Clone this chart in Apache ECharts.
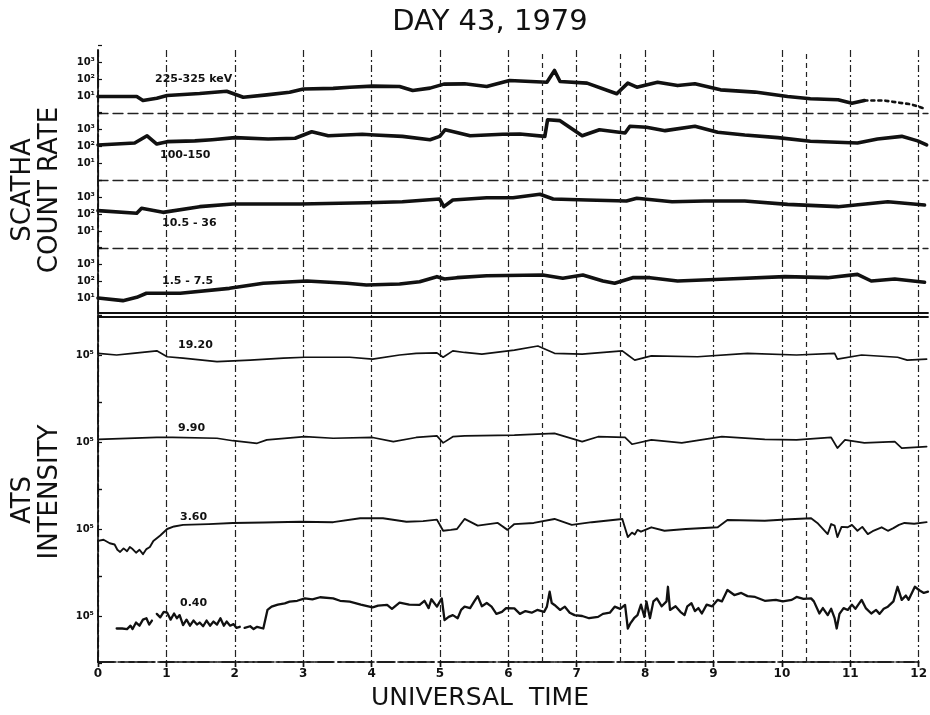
<!DOCTYPE html>
<html>
<head>
<meta charset="utf-8">
<script src="https://cdn.jsdelivr.net/npm/echarts@6/dist/echarts.min.js"></script>
<style>
  html, body { margin: 0; padding: 0; background: #fff; }
  #chart { width: 930px; height: 715px; }
</style>
</head>
<body>
<div id="chart"></div>
<script>
// ---- Data: universal time in hours, values on log scales ----
const hourTicks = [0, 1, 2, 3, 4, 5, 6, 7, 8, 9, 10, 11, 12];
const eventHours = [6.5, 7.63, 10.35];

// SCATHA count rates (counts per interval)
const scathaNames = ['225-325 keV', '100-150', '10.5 - 36', '1.5 - 7.5'];
const scatha225 = [[0,9.3],[0.56,9.3],[0.65,5.4],[0.85,7.4],[1.0,10.7],[1.47,14],[1.86,19],[2.1,8.5],[2.44,11.7],[2.77,16.7],[2.97,26],[3.4,28],[3.64,33],[3.97,38],[4.36,36],[4.55,21],[4.8,29],[5.0,50],[5.3,52],[5.62,36],[5.95,82],[6.49,65],[6.6,316],[6.68,71],[7.07,57],[7.5,13.5],[7.66,57],[7.79,33],[8.09,65],[8.38,41],[8.63,52],[9.0,23],[9.5,17],[9.97,9.3],[10.3,6.9],[10.7,6.0],[10.9,3.8],[11.08,5.4],[11.37,5.4],[11.76,3.2],[11.95,1.8]];
const scatha225DottedFrom = 11.08;
const scatha100 = [[0,115],[0.53,150],[0.71,400],[0.85,130],[1.0,180],[1.4,200],[1.65,235],[1.98,310],[2.46,260],[2.85,285],[3.09,690],[3.33,400],[3.82,490],[4.0,440],[4.4,370],[4.8,235],[4.94,370],[5.02,910],[5.38,400],[5.85,490],[6.1,510],[6.46,370],[6.5,3500],[6.68,3100],[7.0,400],[7.25,910],[7.62,580],[7.69,1450],[7.93,1260],[8.2,800],[8.63,1450],[8.96,640],[9.35,440],[9.83,310],[10.3,190],[10.98,150],[11.27,260],[11.62,370],[11.85,200],[11.98,115]];
const scatha10 = [[0,157],[0.56,110],[0.63,215],[0.94,125],[1.47,270],[1.95,390],[2.92,390],[3.88,460],[4.4,530],[4.94,760],[5.0,270],[5.13,660],[5.62,910],[6.0,910],[6.39,1440],[6.58,760],[7.07,660],[7.64,580],[7.79,840],[8.3,530],[8.77,580],[9.35,580],[9.97,370],[10.7,270],[11.42,530],[11.95,340]];
const scatha1 = [[0,10],[0.36,7],[0.56,11],[0.7,19],[1.19,19],[1.9,37],[2.39,73],[3.02,100],[3.6,73],[3.88,58],[4.36,66],[4.65,91],[4.9,180],[5.01,131],[5.19,157],[5.62,205],[6.43,225],[6.72,144],[7.01,225],[7.3,100],[7.47,73],[7.73,157],[7.98,157],[8.38,100],[9.1,131],[9.93,180],[10.55,157],[10.98,246],[11.18,100],[11.52,131],[11.95,84]];

// ATS intensities
const atsNames = ['19.20', '9.90', '3.60', '0.40'];
const ats1920 = [[0,1.04e5],[0.27,1.0e5],[0.5,1.04e5],[0.85,1.10e5],[1.0,0.96e5],[1.23,0.93e5],[1.72,0.86e5],[2.2,0.89e5],[2.68,0.93e5],[2.99,0.95e5],[3.64,0.95e5],[3.97,0.91e5],[4.36,1.0e5],[4.6,1.04e5],[4.9,1.05e5],[4.99,0.95e5],[5.13,1.10e5],[5.3,1.06e5],[5.55,1.02e5],[6.02,1.12e5],[6.36,1.23e5],[6.6,1.04e5],[7.0,1.02e5],[7.58,1.10e5],[7.66,1.0e5],[7.76,0.89e5],[8.0,0.98e5],[8.67,0.96e5],[9.39,1.04e5],[10.1,1.0e5],[10.65,1.04e5],[10.69,0.91e5],[11.04,1.0e5],[11.56,0.95e5],[11.7,0.89e5],[11.98,0.91e5]];
const ats990 = [[0,1.06e5],[0.85,1.11e5],[1.08,1.11e5],[1.72,1.09e5],[1.95,1.03e5],[2.3,0.97e5],[2.44,1.05e5],[2.99,1.13e5],[3.4,1.09e5],[3.97,1.11e5],[4.27,1.01e5],[4.6,1.11e5],[4.9,1.15e5],[4.99,0.98e5],[5.13,1.13e5],[5.3,1.15e5],[6.02,1.17e5],[6.6,1.22e5],[7.0,1.01e5],[7.23,1.13e5],[7.62,1.11e5],[7.72,0.95e5],[8.0,1.05e5],[8.44,0.98e5],[9.02,1.13e5],[9.64,1.06e5],[10.1,1.05e5],[10.6,1.11e5],[10.69,0.87e5],[10.8,1.05e5],[11.08,0.98e5],[11.52,1.01e5],[11.62,0.87e5],[11.98,0.90e5]];
const ats360 = [[0,0.76e5],[0.08,0.78e5],[0.17,0.72e5],[0.24,0.70e5],[0.28,0.62e5],[0.32,0.59e5],[0.37,0.64e5],[0.42,0.60e5],[0.46,0.66e5],[0.5,0.63e5],[0.55,0.58e5],[0.6,0.62e5],[0.65,0.56e5],[0.7,0.63e5],[0.75,0.66e5],[0.8,0.76e5],[0.9,0.86e5],[1.0,1.0e5],[1.1,1.06e5],[1.23,1.10e5],[1.6,1.12e5],[1.95,1.15e5],[2.4,1.16e5],[2.92,1.18e5],[3.4,1.17e5],[3.79,1.28e5],[4.12,1.28e5],[4.46,1.18e5],[4.7,1.20e5],[4.9,1.24e5],[4.99,0.96e5],[5.1,0.98e5],[5.19,1.0e5],[5.3,1.26e5],[5.49,1.08e5],[5.78,1.15e5],[5.92,0.98e5],[6.02,1.12e5],[6.3,1.15e5],[6.6,1.26e5],[6.85,1.10e5],[7.14,1.17e5],[7.58,1.26e5],[7.66,0.83e5],[7.72,0.92e5],[7.76,0.88e5],[7.8,0.98e5],[7.85,0.94e5],[8.0,1.04e5],[8.19,0.96e5],[8.5,1.0e5],[8.96,1.04e5],[9.1,1.23e5],[9.64,1.21e5],[10.0,1.25e5],[10.31,1.28e5],[10.4,1.15e5],[10.46,1.04e5],[10.55,0.89e5],[10.6,1.12e5],[10.65,1.08e5],[10.69,0.83e5],[10.75,1.05e5],[10.84,1.04e5],[10.9,1.10e5],[10.98,0.96e5],[11.05,1.05e5],[11.13,0.89e5],[11.2,0.95e5],[11.33,1.04e5],[11.42,0.96e5],[11.5,1.02e5],[11.58,1.10e5],[11.66,1.15e5],[11.8,1.13e5],[11.98,1.17e5]];
const ats040 = [[0.27,0.75e5],[0.35,0.75e5],[0.42,0.74e5],[0.47,0.80e5],[0.5,0.74e5],[0.55,0.86e5],[0.6,0.80e5],[0.65,0.92e5],[0.7,0.95e5],[0.74,0.82e5],[0.78,0.90e5],[0.8,null],[0.85,1.05e5],[0.9,0.97e5],[0.95,1.10e5],[1.0,1.08e5],[1.05,0.92e5],[1.1,1.06e5],[1.14,0.95e5],[1.18,1.02e5],[1.23,0.81e5],[1.28,0.92e5],[1.33,0.80e5],[1.38,0.90e5],[1.43,0.82e5],[1.47,0.86e5],[1.52,0.79e5],[1.57,0.90e5],[1.62,0.80e5],[1.67,0.88e5],[1.72,0.82e5],[1.77,0.95e5],[1.82,0.80e5],[1.86,0.88e5],[1.91,0.80e5],[1.96,0.83e5],[2.0,0.76e5],[2.05,0.78e5],[2.08,null],[2.12,0.76e5],[2.2,0.79e5],[2.25,0.74e5],[2.3,0.78e5],[2.39,0.75e5],[2.45,1.15e5],[2.51,1.24e5],[2.6,1.30e5],[2.7,1.34e5],[2.77,1.39e5],[2.88,1.42e5],[2.99,1.50e5],[3.1,1.47e5],[3.21,1.54e5],[3.4,1.50e5],[3.5,1.42e5],[3.64,1.39e5],[3.8,1.30e5],[3.97,1.22e5],[4.05,1.27e5],[4.18,1.29e5],[4.25,1.18e5],[4.36,1.36e5],[4.5,1.30e5],[4.65,1.29e5],[4.72,1.42e5],[4.78,1.20e5],[4.82,1.47e5],[4.9,1.24e5],[4.97,1.50e5],[5.01,0.91e5],[5.07,0.98e5],[5.13,1.02e5],[5.2,0.95e5],[5.25,1.15e5],[5.3,1.24e5],[5.38,1.20e5],[5.44,1.40e5],[5.49,1.58e5],[5.55,1.25e5],[5.62,1.35e5],[5.69,1.24e5],[5.76,1.05e5],[5.84,1.10e5],[5.9,1.20e5],[6.02,1.19e5],[6.1,1.05e5],[6.18,1.12e5],[6.27,1.08e5],[6.35,1.15e5],[6.45,1.10e5],[6.49,1.24e5],[6.53,1.75e5],[6.56,1.35e5],[6.6,1.29e5],[6.68,1.15e5],[6.75,1.24e5],[6.82,1.08e5],[6.89,1.02e5],[7.0,1.00e5],[7.1,0.95e5],[7.23,0.98e5],[7.3,1.05e5],[7.4,1.08e5],[7.47,1.24e5],[7.55,1.18e5],[7.62,1.29e5],[7.66,0.75e5],[7.7,0.85e5],[7.75,0.95e5],[7.8,1.02e5],[7.85,1.30e5],[7.9,0.98e5],[7.93,1.39e5],[7.98,0.95e5],[8.03,1.40e5],[8.08,1.50e5],[8.15,1.25e5],[8.22,1.40e5],[8.24,1.96e5],[8.27,1.15e5],[8.35,1.25e5],[8.42,1.10e5],[8.48,1.02e5],[8.52,1.25e5],[8.58,1.34e5],[8.63,1.12e5],[8.68,1.20e5],[8.73,1.06e5],[8.8,1.30e5],[8.88,1.25e5],[8.96,1.45e5],[9.02,1.40e5],[9.1,1.82e5],[9.2,1.62e5],[9.3,1.70e5],[9.39,1.58e5],[9.5,1.55e5],[9.64,1.42e5],[9.8,1.45e5],[9.9,1.40e5],[10.03,1.45e5],[10.1,1.55e5],[10.2,1.48e5],[10.31,1.50e5],[10.35,1.40e5],[10.43,1.06e5],[10.48,1.20e5],[10.55,1.02e5],[10.6,1.18e5],[10.65,0.95e5],[10.68,0.75e5],[10.72,1.05e5],[10.78,1.20e5],[10.84,1.15e5],[10.9,1.30e5],[10.95,1.18e5],[11.04,1.45e5],[11.1,1.20e5],[11.18,1.06e5],[11.25,1.15e5],[11.3,1.05e5],[11.36,1.18e5],[11.42,1.24e5],[11.5,1.40e5],[11.56,1.96e5],[11.62,1.45e5],[11.68,1.60e5],[11.72,1.45e5],[11.81,1.96e5],[11.88,1.80e5],[11.94,1.70e5],[12,1.75e5]];

// ---- Layout ----
const FONT = 'DejaVu Sans';
const INK = '#111';
const plotLeft = 98, plotRight = 2;
const scathaTops = [45, 112, 180, 247], scathaH = 68;
const atsTops = [315, 402, 489, 576], atsH = 87;
const scathaRange = [1, 1e4];
const atsRange = [Math.pow(10, 4.53), Math.pow(10, 5.4)];
const supDigits = { 1: '\u00b9', 2: '\u00b2', 3: '\u00b3', 5: '\u2075' };

function decadeLabel(allowed) {
  return function (v) {
    const lg = Math.log10(v);
    const e = Math.round(lg);
    if (Math.abs(lg - e) > 0.01 || allowed.indexOf(e) < 0) return '';
    return '10' + supDigits[e];
  };
}

const grids = [{ left: plotLeft, right: plotRight, top: 50, bottom: 53 }];
const xAxes = [
  { gridIndex: 0, type: 'value', min: 0, max: 12, interval: 1, position: 'bottom',
    axisLine: { lineStyle: { color: INK, width: 1.6, type: [16, 4] } },
    axisTick: { show: true, length: 5, lineStyle: { color: INK, width: 1.4 } },
    axisLabel: { color: INK, fontSize: 12, fontWeight: 'bold', fontFamily: FONT, margin: 6 },
    splitLine: { show: true, lineStyle: { color: '#222', width: 1.2, type: [7, 3, 2, 3] } } },
  { gridIndex: 0, type: 'value', min: 0, max: 12, interval: 1, position: 'top',
    axisLine: { lineStyle: { color: INK, width: 1.6, type: [18, 5, 3, 5] } },
    axisTick: { show: true, inside: true, length: 5, lineStyle: { color: INK, width: 1.4 } },
    axisLabel: { show: false }, splitLine: { show: false } }
];
const yAxes = [
  { gridIndex: 0, type: 'value', min: 0, max: 1, position: 'left',
    axisLine: { show: true, lineStyle: { color: INK, width: 1.6 } },
    axisTick: { show: false }, axisLabel: { show: false }, splitLine: { show: false } },
  { gridIndex: 0, type: 'value', min: 0, max: 1, position: 'right',
    axisLine: { show: true, lineStyle: { color: INK, width: 1.6, type: [10, 4] } },
    axisTick: { show: false }, axisLabel: { show: false }, splitLine: { show: false } }
];
const series = [
  { type: 'line', xAxisIndex: 0, yAxisIndex: 0, data: [], silent: true,
    markLine: { symbol: 'none', silent: true, label: { show: false },
      lineStyle: { color: '#222', width: 1.2, type: [5, 4] },
      data: eventHours.map(h => ({ xAxis: h })) } }
];

function lineSeries(axisIdx, data, width, type) {
  return { type: 'line', xAxisIndex: axisIdx, yAxisIndex: axisIdx, data: data,
    showSymbol: false, symbol: 'none', connectNulls: false, animation: false,
    lineStyle: { color: INK, width: width, type: type || 'solid', join: 'round', cap: 'round' } };
}

// SCATHA panels
const scathaData = [scatha225, scatha100, scatha10, scatha1];
scathaTops.forEach((top, i) => {
  const gi = grids.length;
  grids.push({ left: plotLeft, right: plotRight, top: top, height: scathaH });
  const isLast = i === scathaTops.length - 1;
  xAxes.push({ gridIndex: gi, type: 'value', min: 0, max: 12, position: 'bottom',
    offset: isLast ? -2 : 0,
    axisLine: { show: true, lineStyle: isLast ? { color: INK, width: 1.8 } : { color: '#222', width: 1.3, type: [10, 5] } },
    axisTick: { show: false }, axisLabel: { show: false }, splitLine: { show: false } });
  yAxes.push({ gridIndex: gi, type: 'log', logBase: 10, min: scathaRange[0], max: scathaRange[1],
    axisLine: { show: false },
    axisTick: { show: true, inside: true, length: 4, lineStyle: { color: INK, width: 1.2 } },
    axisLabel: { color: INK, fontSize: 10, fontWeight: 'bold', fontFamily: FONT, margin: 3,
      formatter: decadeLabel([1, 2, 3]) },
    splitLine: { show: false } });
  const ax = xAxes.length - 1;
  if (i === 0) {
    series.push(lineSeries(ax, scathaData[i].filter(p => p[0] <= scatha225DottedFrom), 3.6));
    series.push(lineSeries(ax, scathaData[i].filter(p => p[0] >= scatha225DottedFrom), 2.6, [3, 4]));
  } else {
    series.push(lineSeries(ax, scathaData[i], 3.6));
  }
});

// ATS panels
const atsData = [ats1920, ats990, ats360, ats040];
const atsWidths = [1.7, 1.7, 1.9, 2.3];
atsTops.forEach((top, i) => {
  const gi = grids.length;
  grids.push({ left: plotLeft, right: plotRight, top: top, height: atsH });
  xAxes.push({ gridIndex: gi, type: 'value', min: 0, max: 12, position: 'top', offset: -2,
    show: i === 0,
    axisLine: { show: i === 0, lineStyle: { color: INK, width: 1.8 } },
    axisTick: { show: false }, axisLabel: { show: false }, splitLine: { show: false } });
  yAxes.push({ gridIndex: gi, type: 'log', logBase: 10, min: atsRange[0], max: atsRange[1],
    axisLine: { show: false },
    axisTick: { show: true, inside: true, length: 4, lineStyle: { color: INK, width: 1.2 } },
    axisLabel: { color: INK, fontSize: 10, fontWeight: 'bold', fontFamily: FONT, margin: 4,
      formatter: decadeLabel([5]) },
    splitLine: { show: false } });
  series.push(lineSeries(xAxes.length - 1, atsData[i], atsWidths[i]));
});

// Free text: title, axis titles, channel labels
const scathaLabelPos = [[155, 79], [160, 155], [162, 223], [162, 281]];
const atsLabelPos = [[178, 345], [178, 428], [180, 517], [180, 603]];
const texts = [
  { type: 'text', x: 490, y: 22, style: { text: 'DAY 43, 1979', font: '29px "' + FONT + '"', fill: INK, textAlign: 'center', textVerticalAlign: 'middle' } },
  { type: 'text', x: 480, y: 698, style: { text: 'UNIVERSAL  TIME', font: '25px "' + FONT + '"', fill: INK, textAlign: 'center', textVerticalAlign: 'middle' } },
  { type: 'text', x: 23, y: 190, rotation: Math.PI / 2, style: { text: 'SCATHA', font: '26px "' + FONT + '"', fill: INK, textAlign: 'center', textVerticalAlign: 'middle' } },
  { type: 'text', x: 50, y: 190, rotation: Math.PI / 2, style: { text: 'COUNT RATE', font: '26px "' + FONT + '"', fill: INK, textAlign: 'center', textVerticalAlign: 'middle' } },
  { type: 'text', x: 23, y: 500, rotation: Math.PI / 2, style: { text: 'ATS', font: '26px "' + FONT + '"', fill: INK, textAlign: 'center', textVerticalAlign: 'middle' } },
  { type: 'text', x: 50, y: 492, rotation: Math.PI / 2, style: { text: 'INTENSITY', font: '26px "' + FONT + '"', fill: INK, textAlign: 'center', textVerticalAlign: 'middle' } }
];
scathaNames.forEach((name, i) => texts.push({ type: 'text', x: scathaLabelPos[i][0], y: scathaLabelPos[i][1],
  style: { text: name, font: 'bold 11px "' + FONT + '"', fill: INK, textAlign: 'left', textVerticalAlign: 'middle' } }));
atsNames.forEach((name, i) => texts.push({ type: 'text', x: atsLabelPos[i][0], y: atsLabelPos[i][1],
  style: { text: name, font: 'bold 11px "' + FONT + '"', fill: INK, textAlign: 'left', textVerticalAlign: 'middle' } }));

const chart = echarts.init(document.getElementById('chart'), null, { renderer: 'canvas' });
chart.setOption({
  backgroundColor: '#fff',
  animation: false,
  grid: grids,
  xAxis: xAxes,
  yAxis: yAxes,
  series: series,
  graphic: texts
});
</script>
</body>
</html>
